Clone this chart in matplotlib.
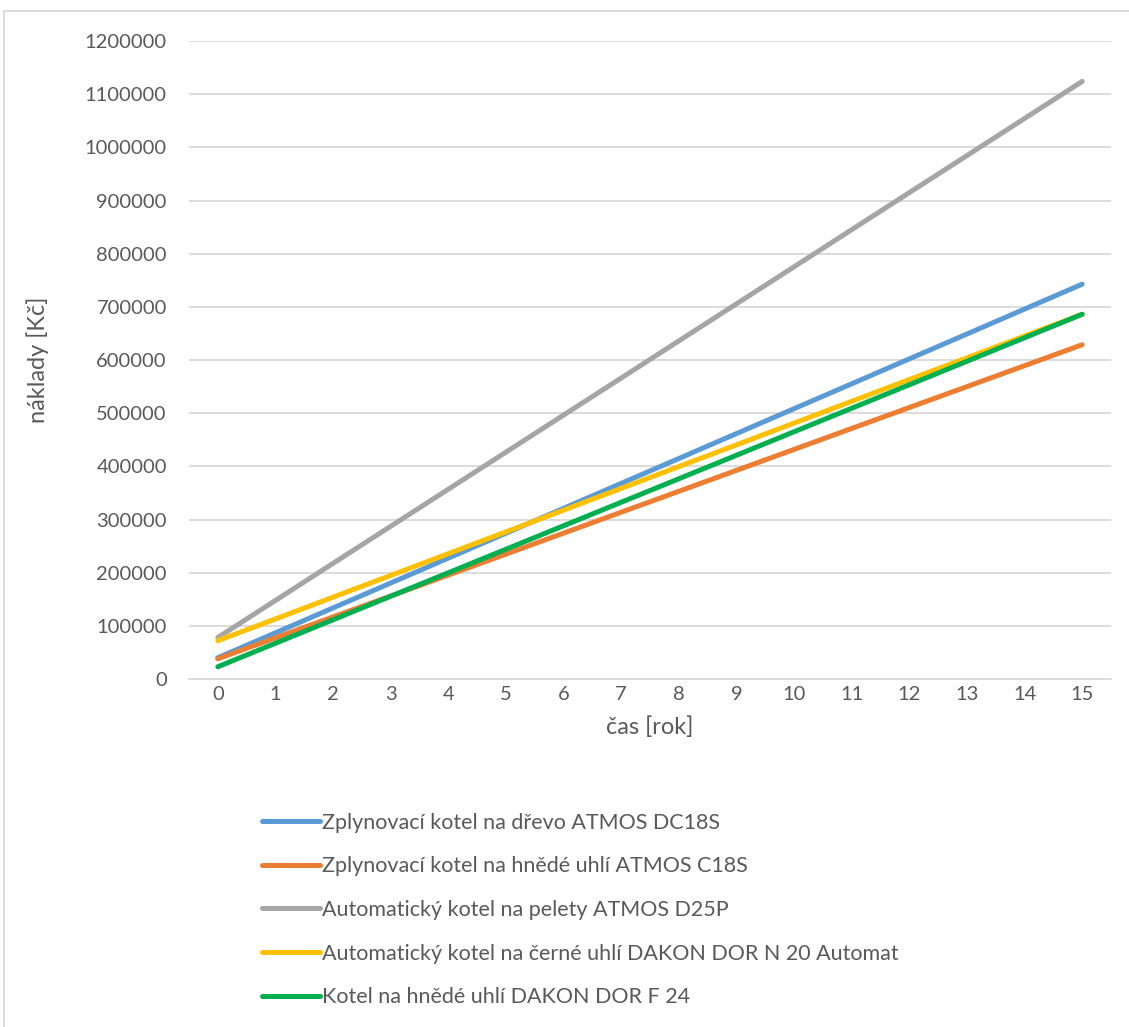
import matplotlib
matplotlib.use("Agg")
import matplotlib.pyplot as plt
from matplotlib.patches import Rectangle

years = list(range(16))
labels = [
    "Zplynovací kotel na dřevo ATMOS DC18S",
    "Zplynovací kotel na hnědé uhlí ATMOS C18S",
    "Automatický kotel na pelety ATMOS D25P",
    "Automatický kotel na černé uhlí DAKON DOR N 20 Automat",
    "Kotel na hnědé uhlí DAKON DOR F 24",
]
drevo = [40000, 86800, 133700, 180500, 227400, 274200, 321000, 367900,
         414700, 461600, 508400, 555200, 602100, 648900, 695800, 742600]
hnede_atmos = [38000, 77400, 116800, 156100, 195500, 234900, 274300, 313700,
               353000, 392400, 431800, 471200, 510600, 549900, 589300, 628700]
pelety = [78000, 147700, 217500, 287200, 356900, 426700, 496400, 566100,
          635900, 705600, 775300, 845100, 914800, 984500, 1054300, 1124000]
cerne = [72000, 112900, 153900, 194800, 235700, 276700, 317600, 358500,
         399500, 440400, 481300, 522300, 563200, 604100, 645100, 686000]
hnede_dakon = [23000, 67200, 111400, 155600, 199800, 244000, 288200, 332400,
               376600, 420800, 465000, 509200, 553400, 597600, 641800, 686000]
series = [drevo, hnede_atmos, pelety, cerne, hnede_dakon]
colors = ["#5B9BD5", "#ED7D31", "#A5A5A5", "#FFC000", "#00B050"]
yticks = list(range(0, 1200001, 100000))

plt.rcParams['font.family'] = ['Lato', 'DejaVu Sans']
txt = "#595959"

fig = plt.figure(figsize=(11.29, 10.27), dpi=100)
ax = fig.add_axes([189/1129, 1-679/1027, (1111-189)/1129, (679-41)/1027])

for s, c, l in zip(series, colors, labels):
    ax.plot(years, s, color=c, lw=3.6, label=l, solid_capstyle='round')

ax.set_xlim(-0.5, 15.5)
ax.set_ylim(0, 1200000)
ax.set_xticks(years)
ax.set_xticklabels([str(y) for y in years])
ax.set_yticks(yticks)
ax.set_yticklabels([str(v) for v in yticks])
ax.tick_params(axis='both', length=0, labelsize=14.5, colors=txt)
ax.tick_params(axis='y', pad=16)
ax.tick_params(axis='x', pad=5)
ax.grid(axis='y', color="#D9D9D9", lw=1.3)
ax.set_axisbelow(True)
for sp in ['top', 'right', 'left']:
    ax.spines[sp].set_visible(False)
ax.spines['bottom'].set_color("#D9D9D9")
ax.spines['bottom'].set_linewidth(1.3)

ax.set_xlabel("čas [rok]", fontsize=17, color=txt, labelpad=10)
ax.set_ylabel("náklady [Kč]", fontsize=17, color=txt, labelpad=26)

leg = fig.legend(loc='upper left', bbox_to_anchor=(253/1129, 1-804/1027),
                 frameon=False, fontsize=15.5, handlelength=2.7,
                 handletextpad=0.1, labelspacing=1.1, borderaxespad=0)
for t in leg.get_texts():
    t.set_color(txt)

fig.patches.append(Rectangle((4/1129, -0.01), 1.2, 1-11/1027+0.01,
                             transform=fig.transFigure, fill=False,
                             edgecolor="#D9D9D9", lw=1.3))

fig.savefig("out.png", dpi=100)
